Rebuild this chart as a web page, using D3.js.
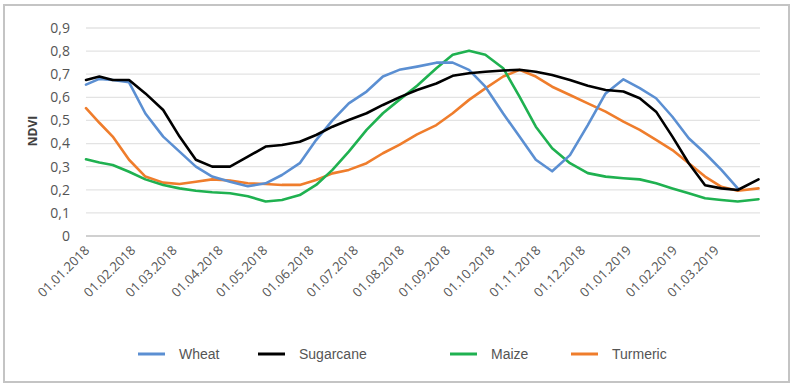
<!DOCTYPE html>
<html>
<head>
<meta charset="utf-8">
<script src="https://cdn.jsdelivr.net/npm/d3@7"></script>
<style>
  html, body { margin: 0; padding: 0; background: #fff; }
  svg { display: block; }
</style>
</head>
<body>
<svg id="chart" width="798" height="390"></svg>
<script>
// ---- data ----
const dates = [
  "2018-01-01","2018-01-10","2018-01-19","2018-01-30","2018-02-10","2018-02-22",
  "2018-03-05","2018-03-16","2018-03-27","2018-04-08","2018-04-20","2018-05-02",
  "2018-05-13","2018-05-25","2018-06-05","2018-06-16","2018-06-27","2018-07-09",
  "2018-07-20","2018-07-31","2018-08-12","2018-08-25","2018-09-05","2018-09-16",
  "2018-09-27","2018-10-09","2018-10-20","2018-10-31","2018-11-11","2018-11-23",
  "2018-12-05","2018-12-17","2018-12-29","2019-01-09","2019-01-20","2019-01-31",
  "2019-02-11","2019-02-22","2019-03-05","2019-03-16","2019-03-30"
];
const wheat = [0.655,0.68,0.675,0.665,0.53,0.43,0.365,0.30,0.257,0.235,0.215,0.228,
  0.264,0.315,0.415,0.50,0.574,0.625,0.69,0.719,0.733,0.75,0.75,0.719,0.646,0.53,
  0.43,0.33,0.28,0.35,0.48,0.617,0.678,0.64,0.596,0.516,0.423,0.358,0.286,0.206,null];
const sugarcane = [0.675,0.69,0.675,0.675,0.617,0.545,0.43,0.33,0.30,0.30,0.343,0.387,
  0.394,0.408,0.437,0.473,0.502,0.531,0.567,0.60,0.632,0.66,0.693,0.704,0.711,0.716,
  0.719,0.711,0.697,0.675,0.65,0.632,0.625,0.596,0.538,0.43,0.315,0.22,0.206,0.199,0.245];
const maize = [0.332,0.318,0.307,0.278,0.245,0.221,0.206,0.196,0.189,0.185,0.172,0.149,
  0.156,0.177,0.221,0.286,0.365,0.459,0.531,0.589,0.65,0.726,0.784,0.802,0.784,0.726,
  0.603,0.473,0.38,0.315,0.272,0.257,0.25,0.245,0.228,0.206,0.185,0.163,0.156,0.149,0.159];
const turmeric = [0.553,0.49,0.43,0.33,0.257,0.231,0.225,0.235,0.245,0.24,0.228,0.225,
  0.221,0.221,0.242,0.271,0.286,0.315,0.358,0.394,0.44,0.48,0.531,0.589,0.639,0.69,
  0.719,0.69,0.646,0.61,0.574,0.538,0.495,0.459,0.416,0.372,0.315,0.257,0.213,0.196,0.206];
const seriesNames = ["Wheat","Sugarcane","Maize","Turmeric"];
const yTicks = [0,0.1,0.2,0.3,0.4,0.5,0.6,0.7,0.8,0.9];
const xTickLabels = ["01.01.2018","01.02.2018","01.03.2018","01.04.2018","01.05.2018",
  "01.06.2018","01.07.2018","01.08.2018","01.09.2018","01.10.2018","01.11.2018",
  "01.12.2018","01.01.2019","01.02.2019","01.03.2019"];

// ---- chart ----
const colors = {Wheat:"#5b8fd2", Sugarcane:"#000000", Maize:"#1fb150", Turmeric:"#ef7d2c"};
const values = {Wheat:wheat, Sugarcane:sugarcane, Maize:maize, Turmeric:turmeric};
const parse = d3.timeParse("%Y-%m-%d");
const parseTick = d3.timeParse("%d.%m.%Y");
const svg = d3.select("#chart");
const font = "'Open Sans', 'Liberation Sans', sans-serif";

// chart border
svg.append("rect").attr("x",4).attr("y",5).attr("width",785).attr("height",377)
  .attr("fill","#fff").attr("stroke","#c4c4c4").attr("stroke-width",2);

const x = d3.scaleTime().domain([parse("2018-01-01"), parse("2019-03-31")]).range([86, 760]);
const y = d3.scaleLinear().domain([0, 0.9]).range([236, 28]);

// gridlines
svg.append("g").selectAll("line").data(yTicks).join("line")
  .attr("x1",86).attr("x2",760)
  .attr("y1",d=>y(d)).attr("y2",d=>y(d))
  .attr("stroke",d=>d===0?"#d0d0d0":"#e3e3e3")
  .attr("stroke-width",d=>d===0?2:1.3);

// y axis labels
const fmt = d => d===0 ? "0" : d3.format(".1f")(d).replace(".", ",");
svg.append("g").selectAll("text").data(yTicks).join("text")
  .attr("x",70).attr("y",d=>y(d)).attr("dy","0.35em")
  .attr("text-anchor","end").attr("fill","#555")
  .style("font-family",font).style("font-size","14px")
  .text(fmt);

// y axis title
svg.append("text").attr("transform","translate(37,131) rotate(-90)")
  .attr("text-anchor","middle").attr("fill","#404040")
  .style("font-family",font).style("font-size","12px").style("font-weight","bold")
  .text("NDVI");

// x labels
svg.append("g").selectAll("text").data(xTickLabels).join("text")
  .attr("transform",d=>`translate(${x(parseTick(d))+1},248) rotate(-45)`)
  .attr("text-anchor","end").attr("dy","0.35em").attr("fill","#555")
  .style("font-family",font).style("font-size","13px")
  .text(d=>d);

// lines
const line = d3.line()
  .defined(d => d[1] !== null)
  .x(d => x(parse(d[0]))).y(d => y(d[1]));
const order = ["Turmeric","Maize","Wheat","Sugarcane"];
order.forEach(n => {
  svg.append("path")
    .datum(dates.map((dt,i)=>[dt, values[n][i]]))
    .attr("d", line).attr("fill","none")
    .attr("stroke", colors[n]).attr("stroke-width",2.6)
    .attr("stroke-linejoin","round").attr("stroke-linecap","round");
});

// legend
const legX = [138, 258, 450, 571];
const lg = svg.append("g").selectAll("g").data(seriesNames).join("g")
  .attr("transform",(d,i)=>`translate(${legX[i]},354)`);
lg.append("line").attr("x1",0).attr("x2",27).attr("y1",0).attr("y2",0)
  .attr("stroke",d=>colors[d]).attr("stroke-width",3);
lg.append("text").attr("x",41).attr("dy","0.35em").attr("fill","#555")
  .style("font-family","'Liberation Sans', sans-serif").style("font-size","14px")
  .text(d=>d);
</script>
</body>
</html>
